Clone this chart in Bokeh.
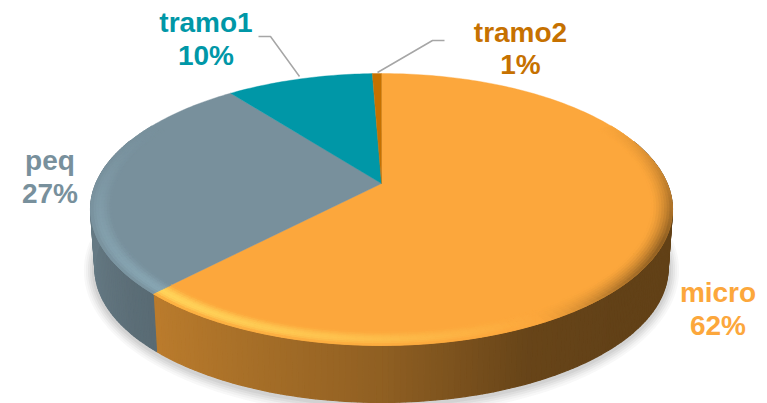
import numpy as np
from bokeh.plotting import figure
from bokeh.models import Range1d
from bokeh.core.properties import value
from bokeh.embed import file_html
from bokeh.resources import INLINE

categories = ["micro", "peq", "tramo1", "tramo2"]
shares = [62.1, 27.49, 9.8, 0.61]
percent_labels = ["62%", "27%", "10%", "1%"]
colors = ["#FCA73C", "#78909C", "#0097A7", "#C67100"]

# Layout (page pixels) and the projection of the tilted disc
AX, AY = 381.0, 183.0
R_X, R_Y, K = 285.6, 131.0, 0.191
DEPTH, BOTTOM_SCALE = 59.4, 0.985
BEVEL_IN = 0.93
label_pos = {"micro": (717.5, 292, 325), "peq": (49.5, 160, 193),
             "tramo1": (205.5, 22, 55), "tramo2": (520, 32, 64)}
leaders = [([258, 270, 299], [36, 36, 76]), ([444, 432, 377], [40, 40, 72])]


def proj(theta, r=1.0):
    u, v = r * np.sin(theta), r * np.cos(theta)
    d = 1 + K * v
    return AX + R_X * u / d, AY - R_Y * v / d


def rgb(h):
    return np.array([int(h[i:i + 2], 16) for i in (1, 3, 5)], float)


def hexc(c):
    c = np.clip(np.round(c), 0, 255).astype(int)
    return "#%02x%02x%02x" % tuple(c)


edges = np.radians(np.concatenate([[0], np.cumsum(shares)]) * 3.6)

p = figure(width=767, height=403, output_backend="svg", toolbar_location=None,
           x_range=Range1d(0, 767), y_range=Range1d(403, 0), min_border=0,
           background_fill_color="white", border_fill_color="white")
p.axis.visible = False
p.grid.visible = False
p.outline_line_color = None

# soft shadow under the disc
tt = np.linspace(0, 2 * np.pi, 241)
for grow, alpha in [(11, .035), (9, .04), (7, .05), (5, .06), (3, .07)]:
    sx, sy = proj(tt)
    sx = AX + (sx - AX) * BOTTOM_SCALE
    sy = AY + DEPTH + (sy - AY) * BOTTOM_SCALE
    cx, cy = AX, sy.mean()
    fx = 1 + grow / 286
    fy = 1 + grow / 130
    p.patch(list(cx + (sx - cx) * fx), list(cy + (sy - cy) * fy + 1),
            fill_color="#404040", fill_alpha=alpha, line_color=None)

# side wall
b_u = [-1, -.77, 0, .42, .7, 1]
b_v = [.85, .76, .57, .41, .39, .39]
xs, ys, cs = [], [], []
for i, c in enumerate(colors):
    a = np.arange(edges[i], edges[i + 1] + 1e-6, np.radians(1.0))
    a = np.append(a, edges[i + 1])
    for t0, t1 in zip(a[:-1], a[1:]):
        if np.cos((t0 + t1) / 2) > 0.35:
            continue
        x0, y0 = proj(t0)
        x1, y1 = proj(t1)
        bx0 = AX + (x0 - AX) * BOTTOM_SCALE
        by0 = AY + DEPTH + (y0 - AY) * BOTTOM_SCALE
        bx1 = AX + (x1 - AX) * BOTTOM_SCALE
        by1 = AY + DEPTH + (y1 - AY) * BOTTOM_SCALE
        xs.append([x0, x1, bx1, bx0])
        ys.append([y0, y1, by1, by0])
        cs.append(hexc(rgb(c) * np.interp(np.sin((t0 + t1) / 2), b_u, b_v)))
p.patches(xs, ys, fill_color=cs, line_color=cs, line_width=1.2)

# flat top slices
for i, c in enumerate(colors):
    a = np.linspace(edges[i], edges[i + 1], max(3, int(np.degrees(edges[i + 1] - edges[i]))))
    x, y = proj(a)
    p.patch([AX] + list(x), [AY] + list(y), fill_color=c, line_color=c, line_width=0.4)

# bevel round the rim
bevel_target = [np.array([255, 212, 90.]), np.array([135, 165, 178.]),
                np.array([40, 170, 185.]), np.array([220, 140, 40.])]
rings = 8
xs, ys, cs = [], [], []
for i, c in enumerate(colors):
    base = rgb(c)
    a = np.arange(edges[i], edges[i + 1] + 1e-6, np.radians(1.5))
    a = np.append(a, edges[i + 1])
    for t0, t1 in zip(a[:-1], a[1:]):
        m = (t0 + t1) / 2
        u, v = np.sin(m), np.cos(m)
        w = np.clip((0.5 - v) / 1.2, 0, 1)
        L = -0.85 * u - 0.45 * v
        if w < .02:
            continue
        for k in range(rings):
            t = (k + .5) / rings
            r0 = BEVEL_IN + (1 - BEVEL_IN) * k / rings
            r1 = BEVEL_IN + (1 - BEVEL_IN) * (k + 1) / rings
            if L > 0:
                amt = min(1, L * 1.1) * w * np.sin(np.pi * t ** 1.3)
                col = base + (bevel_target[i] - base) * amt
            else:
                amt = min(1, -L * 1.7) * w * t ** 1.5
                col = base + (base * .39 - base) * amt
            x0, y0 = proj(t0, r0)
            x1, y1 = proj(t1, r0)
            x2, y2 = proj(t1, r1)
            x3, y3 = proj(t0, r1)
            xs.append([x0, x1, x2, x3])
            ys.append([y0, y1, y2, y3])
            cs.append(hexc(col))
p.patches(xs, ys, fill_color=cs, line_color=cs, line_width=0.8)

# leader lines
for lx, ly in leaders:
    p.line(lx, ly, line_color="#A6A6A6", line_width=1.5)

# labels
for name, pct, c in zip(categories, percent_labels, colors):
    x, y1, y2 = label_pos[name]
    p.text([x, x], [y1, y2], text=[name, pct], text_color=c,
           text_font=value("Liberation Sans"), text_font_style="bold",
           text_font_size="28px", text_align="center", text_baseline="alphabetic")

open("out.html", "w").write(file_html(p, INLINE))
